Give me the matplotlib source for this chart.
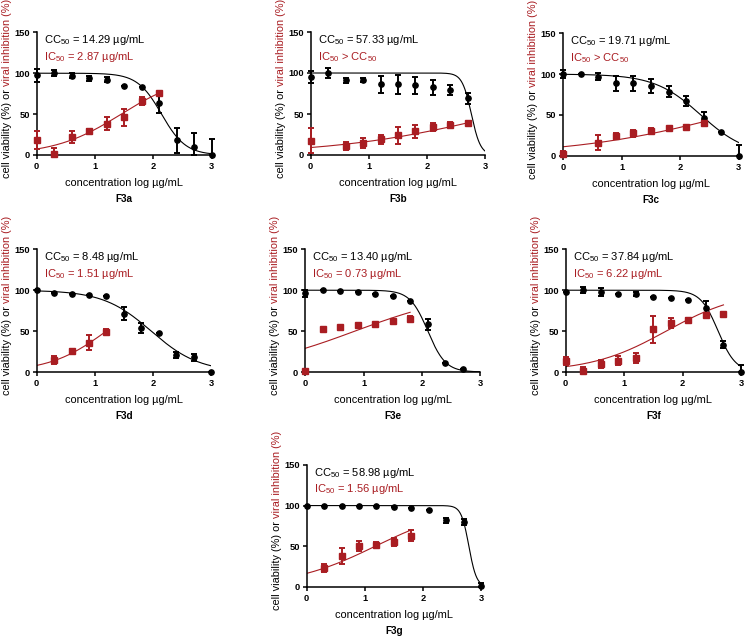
import numpy as np
import matplotlib
matplotlib.use("Agg")
import matplotlib.pyplot as plt

plt.rcParams['font.family'] = ['Liberation Sans', 'DejaVu Sans']
plt.rcParams['mathtext.fontset'] = 'custom'
plt.rcParams['mathtext.rm'] = 'Liberation Sans'
plt.rcParams['mathtext.it'] = 'Liberation Sans:italic'
plt.rcParams['mathtext.bf'] = 'Liberation Sans:bold'

RED = '#A91D22'
W, H = 745, 638

# log concentration (x) shared by all panels
conc = [0, 0.3, 0.6, 0.9, 1.2, 1.5, 1.8, 2.1, 2.4, 2.7, 3.0]

panel_names = ['F3a', 'F3b', 'F3c', 'F3d', 'F3e', 'F3f', 'F3g']
cc_text = ['14.29', '57.33', '19.71', '8.48', '13.40', '37.84', '58.98']
ic_text = ['= 2.87 µg/mL', '> CC$_{50}$', '> CC$_{50}$', '= 1.51 µg/mL',
           '= 0.73 µg/mL', '= 6.22 µg/mL', '= 1.56 µg/mL']

# cell viability (black circles): x, mean, sd
via_x = [conc, conc[:10], conc, conc, conc[:10], conc, conc]
via_y = [
    [97.6, 100, 97, 94, 92, 84.5, 83.3, 63, 18, 10, 0],
    [95, 100, 91, 91, 86, 86, 85, 82.5, 79, 69],
    [100, 100, 97, 88.7, 88.7, 85.4, 78.5, 67.4, 46.6, 29.4, 0],
    [100, 96.2, 95.4, 94.6, 93.4, 71, 54, 47.3, 21, 18, 0],
    [96, 100, 98.6, 97.4, 95.8, 93, 87.2, 58.3, 11.4, 4],
    [98.2, 100, 98, 95.8, 95.4, 92, 90, 88, 78.3, 33.4, 0],
    [100, 100, 99.5, 99.5, 99, 98.2, 97, 94, 81.8, 79.7, 1.2],
]
via_err = [
    [8, 3.5, 3, 3, 3, 0, 0, 12, 15, 17, 20],
    [7, 6, 3, 2.5, 10, 11, 10, 9, 6, 7],
    [5, 0, 4, 9, 9, 8, 7, 6, 7, 0, 13],
    [0, 0, 0, 0, 0, 8, 6, 0, 4, 4, 0],
    [4, 0, 0, 0, 0, 0, 0, 7, 0, 0],
    [0, 4, 5, 0, 3, 0, 0, 0, 8, 4, 9],
    [0, 0, 0, 0, 0, 0, 0, 0, 3, 4, 3],
]
# fitted curve (log CC50 on plot scale, hill slope)
via_fit = [(2.14, 2.1), (2.76, 5.5), (2.35, 1.1), (1.97, 1.05),
           (2.104, 2.85), (2.608, 2.9), (2.791, 6.6)]

# viral inhibition (red squares)
inh_x = [conc[:8], conc[:1] + conc[2:10], conc[:1] + conc[2:9], conc[1:5],
         conc[:7], conc[:10], conc[1:7]]
inh_y = [
    [18, 1, 22, 29, 38, 46, 66, 76],
    [17.5, 11, 15, 19, 24, 29, 34, 37, 39.5],
    [2, 16, 24, 27.4, 30, 33.5, 35.6, 40.5],
    [14.7, 25.7, 36, 49],
    [1, 52, 55, 57.5, 58.3, 62.4, 65],
    [13.9, 1.2, 9.4, 14, 17.5, 52, 59.5, 63.6, 69.7, 70.5],
    [23.4, 38.2, 50, 52, 55.5, 63],
]
inh_err = [
    [11, 7, 7, 3, 8, 10, 5, 0],
    [15, 5, 6, 6, 10, 8, 5, 3, 0],
    [4, 9, 4, 4, 4, 1, 0, 3],
    [5, 2, 9, 3],
    [0, 0, 0, 0, 0, 0, 3],
    [5, 5, 5, 5, 6, 16, 6, 3, 0, 0],
    [5, 10, 6, 3, 5, 7],
]
inh_fit = [(1.45, 0.76), (3.33, 0.30), (2.86, 0.318), (1.2, 0.883),
           (0.853, 0.456), (1.72, 0.673), (1.184, 0.597)]

# axes boxes in pixels: left, right, top, bottom
boxes = [(36.7, 211.7, 32.3, 155), (310.7, 485.3, 32, 155), (563.3, 738.7, 33.3, 155.7),
         (36.7, 211, 249.3, 372), (305.3, 480, 249.3, 372), (565.7, 741, 249.3, 372),
         (306.7, 481, 465, 586.7)]


def bars(y, e):
    # error bars are not drawn below the x axis
    y, e = np.asarray(y, float), np.asarray(e, float)
    return [np.minimum(e, y), e]


fig = plt.figure(figsize=(W / 100, H / 100), dpi=100)
for i, (l, r, t, b) in enumerate(boxes):
    ax = fig.add_axes([l / W, 1 - b / H, (r - l) / W, (b - t) / H])

    # curves
    c, h = via_fit[i]
    xx = np.linspace(0, 3, 300)
    ax.plot(xx, 100 / (1 + 10 ** ((xx - c) * h)), color='black', lw=0.8)
    c, h = inh_fit[i]
    xx = np.linspace(0, max(inh_x[i]), 200)
    ax.plot(xx, 100 / (1 + 10 ** ((c - xx) * h)), color=RED, lw=0.8)

    ax.errorbar(via_x[i], via_y[i], yerr=bars(via_y[i], via_err[i]), fmt='o',
                color='black', ms=3.8, elinewidth=1.4, capsize=2.3, capthick=1.4,
                clip_on=False, zorder=4)
    ax.errorbar(inh_x[i], inh_y[i], yerr=bars(inh_y[i], inh_err[i]), fmt='s',
                color=RED, ms=3.8, elinewidth=1.4, capsize=2.3, capthick=1.4,
                clip_on=False, zorder=4)

    ax.set_xlim(0, 3)
    ax.set_ylim(0, 150)
    ax.set_xticks([0, 1, 2, 3])
    ax.set_yticks([0, 50, 100, 150])
    for s in ['top', 'right']:
        ax.spines[s].set_visible(False)
    for s in ['left', 'bottom']:
        ax.spines[s].set_linewidth(1.1)
    ax.tick_params(length=3, width=1.1, labelsize=6.7, pad=2)
    for lab in ax.get_xticklabels() + ax.get_yticklabels():
        lab.set_fontweight('bold')
    ax.patch.set_alpha(0)

    ax.text(0.12, 140, 'CC$_{50}$ = ' + cc_text[i] + ' µg/mL', fontsize=8.0,
            va='center', ha='left')
    ax.text(0.12, 120, 'IC$_{50}$ ' + ic_text[i], fontsize=8.0, color=RED,
            va='center', ha='left')

    cx = (l + r) / 2
    fig.text(cx / W, 1 - (b + 28) / H, 'concentration log µg/mL', fontsize=7.9,
             ha='center', va='center')
    fig.text(cx / W, 1 - (b + 44) / H, panel_names[i], fontsize=7.2,
             fontweight='bold', ha='center', va='center')

# two-colour rotated y labels
fig.canvas.draw()
rend = fig.canvas.get_renderer()
for i, (l, r, t, b) in enumerate(boxes):
    x = (l - 30) / W
    t1 = fig.text(x, 0, 'cell viability (%) or ', rotation=90, fontsize=7.9,
                  ha='center', va='bottom')
    t2 = fig.text(x, 0, 'viral inhibition (%)', rotation=90, fontsize=7.9,
                  color=RED, ha='center', va='bottom')
    h1 = t1.get_window_extent(rend).height
    h2 = t2.get_window_extent(rend).height
    cy = H - (t + b) / 2 + 5
    y0 = cy - (h1 + h2) / 2
    t1.set_y(y0 / H)
    t2.set_y((y0 + h1) / H)

fig.savefig('out.png', dpi=100)
